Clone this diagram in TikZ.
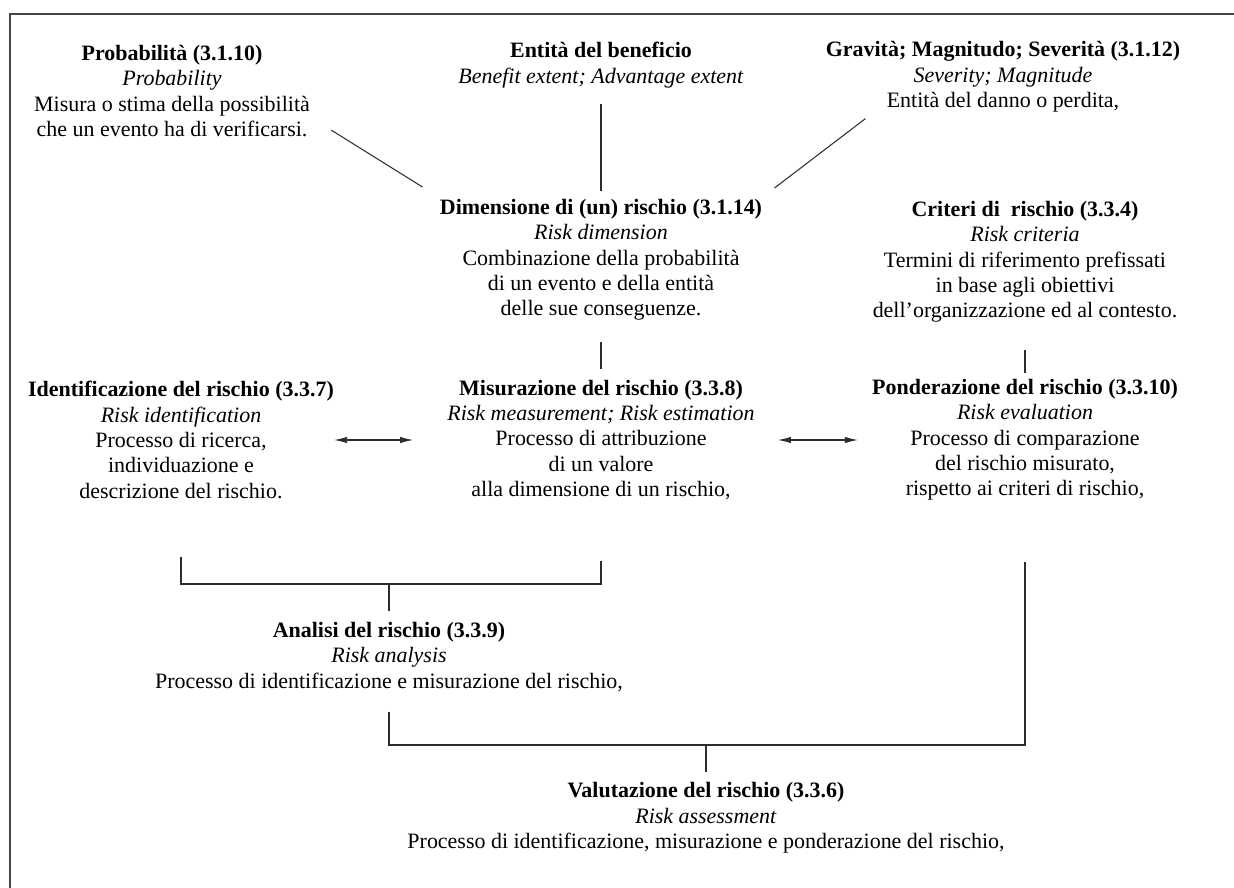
\documentclass[tikz,border=0pt]{standalone}
\usepackage{fontspec}
\setmainfont{Liberation Serif}
\usepackage{xcolor}
\usetikzlibrary{arrows.meta,calc}
\definecolor{frameline}{RGB}{70,70,70}
\definecolor{linkline}{RGB}{45,45,45}

\newcommand{\termhead}[2]{\textbf{#1}\\\textit{#2}}

\begin{document}
\begin{tikzpicture}[x=0.02cm,y=0.02cm,>=Latex,
  font=\fontsize{12.5}{14.4}\selectfont,
  term/.style={align=center,inner sep=0pt},
  link/.style={draw=linkline,line width=0.6pt},
  pair/.style={link,{Latex[length=2.6mm,width=1.3mm]}-{Latex[length=2.6mm,width=1.3mm]}}]
  \useasboundingbox (0,0) rectangle (1234,-888);
  \draw[frameline,line width=1.5pt] (10,-888) |- (1234,-14);

  \node[term] (prob) at (172,-91) {\termhead{Probabilità (3.1.10)}{Probability}\\Misura o stima della possibilità\\che un evento ha di verificarsi.};
  \node[term] (ben) at (601,-65) {\termhead{Entità del beneficio}{Benefit extent; Advantage extent}};
  \node[term] (grav) at (1003,-77) {\termhead{Gravità; Magnitudo; Severità (3.1.12)}{Severity; Magnitude}\\Entità del danno o perdita,};
  \node[term] (dim) at (601,-260) {\termhead{Dimensione di (un) rischio (3.1.14)}{Risk dimension}\\Combinazione della probabilità\\di un evento e della entità\\delle sue conseguenze.};
  \node[term] (crit) at (1025,-262) {\termhead{Criteri di~ rischio (3.3.4)}{Risk criteria}\\Termini di riferimento prefissati\\in base agli obiettivi\\dell'organizzazione ed al contesto.};
  \node[term] (ident) at (181,-440) {\termhead{Identificazione del rischio (3.3.7)}{Risk identification}\\Processo di ricerca,\\individuazione e\\descrizione del rischio.};
  \node[term] (mis) at (601,-440) {\termhead{Misurazione del rischio (3.3.8)}{Risk measurement; Risk estimation}\\Processo di attribuzione\\di un valore\\alla dimensione di un rischio,};
  \node[term] (pond) at (1025,-440) {\termhead{Ponderazione del rischio (3.3.10)}{Risk evaluation}\\Processo di comparazione\\del rischio misurato,\\rispetto ai criteri di rischio,};
  \node[term] (anal) at (389,-657) {\termhead{Analisi del rischio (3.3.9)}{Risk analysis}\\Processo di identificazione e misurazione del rischio,};
  \node[term] (val) at (706,-818) {\termhead{Valutazione del rischio (3.3.6)}{Risk assessment}\\Processo di identificazione, misurazione e ponderazione del rischio,};

  \draw[link] ([shift={(21,7)}]prob.south east) -- ([shift={(-17,12)}]dim.north west);
  \draw[link,shorten <=3.2mm,shorten >=1.6mm] (ben) -- (dim);
  \draw[link] ([shift={(40,-6)}]grav.south west) -- ([shift={(12,11)}]dim.north east);
  \draw[link,shorten <=4.2mm,shorten >=2.2mm] (dim) -- (mis);
  \draw[link,shorten <=5.4mm,shorten >=1.2mm] (crit) -- (pond);
  \draw[pair,shorten >=6.8mm] (ident.east) -- (mis.west);
  \draw[pair,shorten <=4.6mm,shorten >=2.8mm] (mis.east) -- (pond.west);

  \coordinate (j1) at (389,-584);
  \draw[link] ([shift={(0,-58)}]ident.south) |- (j1) -| ([shift={(0,-61)}]mis.south);
  \draw[link,shorten >=2.2mm] (j1) -- (anal.north);
  \coordinate (j2) at (706,-745);
  \draw[link] ([shift={(0,-20)}]anal.south) |- (j2) -| ([shift={(0,-61)}]pond.south);
  \draw[link,shorten >=2mm] (j2) -- (val.north);
\end{tikzpicture}
\end{document}
